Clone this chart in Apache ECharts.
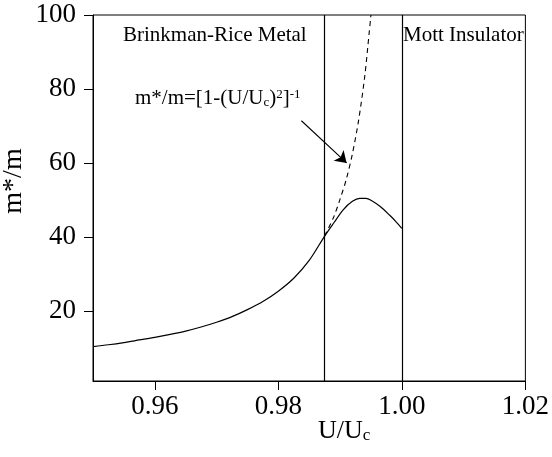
<!DOCTYPE html>
<html><head><meta charset="utf-8">
<script src="https://cdn.jsdelivr.net/npm/echarts@6/dist/echarts.min.js"></script>
<style>html,body{margin:0;padding:0;background:#fff}#c{width:552px;height:457px}</style>
</head><body><div id="c"></div>
<script>
// Solid curve (computed m*/m)
const solidU = [0.95,0.9525,0.955,0.9575,0.96,0.9625,0.965,0.9675,0.97,0.9725,0.975,0.9775,0.98,0.9825,0.985,0.9875,0.989,0.9905,0.992,0.9932,0.9942,0.995,0.9965,0.998,0.999,1.000];
const solidM = [10.3,10.8,11.4,12.1,12.8,13.6,14.5,15.6,16.9,18.4,20.3,22.5,25.3,28.8,33.6,40.2,43.8,47.3,49.6,50.4,50.4,49.9,48.2,45.9,44.2,42.3];
// Dashed curve (m*/m=[1-(U/Uc)^2]^-1)
const dashU = [0.9875,0.989,0.990,0.991,0.992,0.993,0.994,0.9947,0.995];
const dashM = [40.2,45.5,50.2,55.5,62.5,71.5,83.5,95.0,100.0];
// Boundaries
const boundaries = [0.9875, 1.00];
// Tick labels
const xTicks = [0.96, 0.98, 1.00, 1.02];
const yTicks = [20, 40, 60, 80, 100];
// Arrow (data coords)
const arrowFrom = [0.98374, 71.4];
const arrowTo = [0.99106, 60.0];

const FONT = '"Liberation Serif","Times New Roman",serif';
const chart = echarts.init(document.getElementById('c'), null, {renderer:'canvas'});
const zip = (a,b)=>a.map((v,i)=>[v,b[i]]);
chart.setOption({
  animation:false,
  backgroundColor:'#fff',
  grid:{left:93,right:26,top:15,bottom:76,show:true,borderColor:'#000',borderWidth:1,containLabel:false},
  xAxis:{type:'value',min:0.95,max:1.02,
    axisLine:{show:true,lineStyle:{color:'#000',width:1}},
    axisTick:{show:true,inside:false,length:9,customValues:xTicks,lineStyle:{color:'#000'}},
    axisLabel:{customValues:xTicks,margin:12,color:'#000',fontFamily:FONT,fontSize:27,formatter:v=>v.toFixed(2)},
    splitLine:{show:false}},
  yAxis:{type:'value',min:1,max:100,
    axisLine:{show:true,lineStyle:{color:'#000',width:1}},
    axisTick:{show:true,inside:false,length:9,customValues:yTicks,lineStyle:{color:'#000'}},
    axisLabel:{customValues:yTicks,margin:17,color:'#000',fontFamily:FONT,fontSize:27},
    splitLine:{show:false}},
  series:[
    {type:'line',data:zip(solidU,solidM),showSymbol:false,smooth:0.3,
     lineStyle:{color:'#000',width:1.2},
     markLine:{silent:true,symbol:'none',precision:5,label:{show:false},
       lineStyle:{color:'#000',width:1.2,type:'solid'},
       data:boundaries.map(b=>({xAxis:b}))}},
    {type:'line',data:zip(dashU,dashM),showSymbol:false,smooth:0.3,
     lineStyle:{color:'#000',width:1.1,type:[5,4]},
     markLine:{silent:true,precision:5,label:{show:false},symbol:['none','arrow'],symbolSize:11,
       itemStyle:{color:'#000'},
       lineStyle:{color:'#000',width:1.1,type:'solid'},
       data:[[{coord:arrowFrom},{coord:arrowTo}]]}}
  ],
  graphic:[
    {type:'text',left:123,top:25,style:{text:'Brinkman-Rice Metal',font:'21px '+FONT,fill:'#000'}},
    {type:'text',left:403,top:25,style:{text:'Mott Insulator',font:'21px '+FONT,fill:'#000'}},
    {type:'text',left:135,top:88,style:{
      text:'m*/m=[1-(U/U{sub|c}){sup|2}]{sup|-1}',
      font:'21px '+FONT,fill:'#000',
      rich:{sub:{fontSize:13,fontFamily:FONT,verticalAlign:'bottom',padding:[8,0,0,0]},
            sup:{fontSize:13,fontFamily:FONT,verticalAlign:'top',padding:[0,0,8,0]}}}},
    {type:'text',left:318,top:418,style:{
      text:'U/U{sub|c}',font:'26px '+FONT,fill:'#000',
      rich:{sub:{fontSize:17,fontFamily:FONT,verticalAlign:'bottom',padding:[10,0,0,0]}}}},
    {type:'text',x:14,y:181,rotation:Math.PI/2,style:{text:'m*/m',font:'28px '+FONT,fill:'#000',align:'center',verticalAlign:'middle'}}
  ]
});
</script></body></html>
